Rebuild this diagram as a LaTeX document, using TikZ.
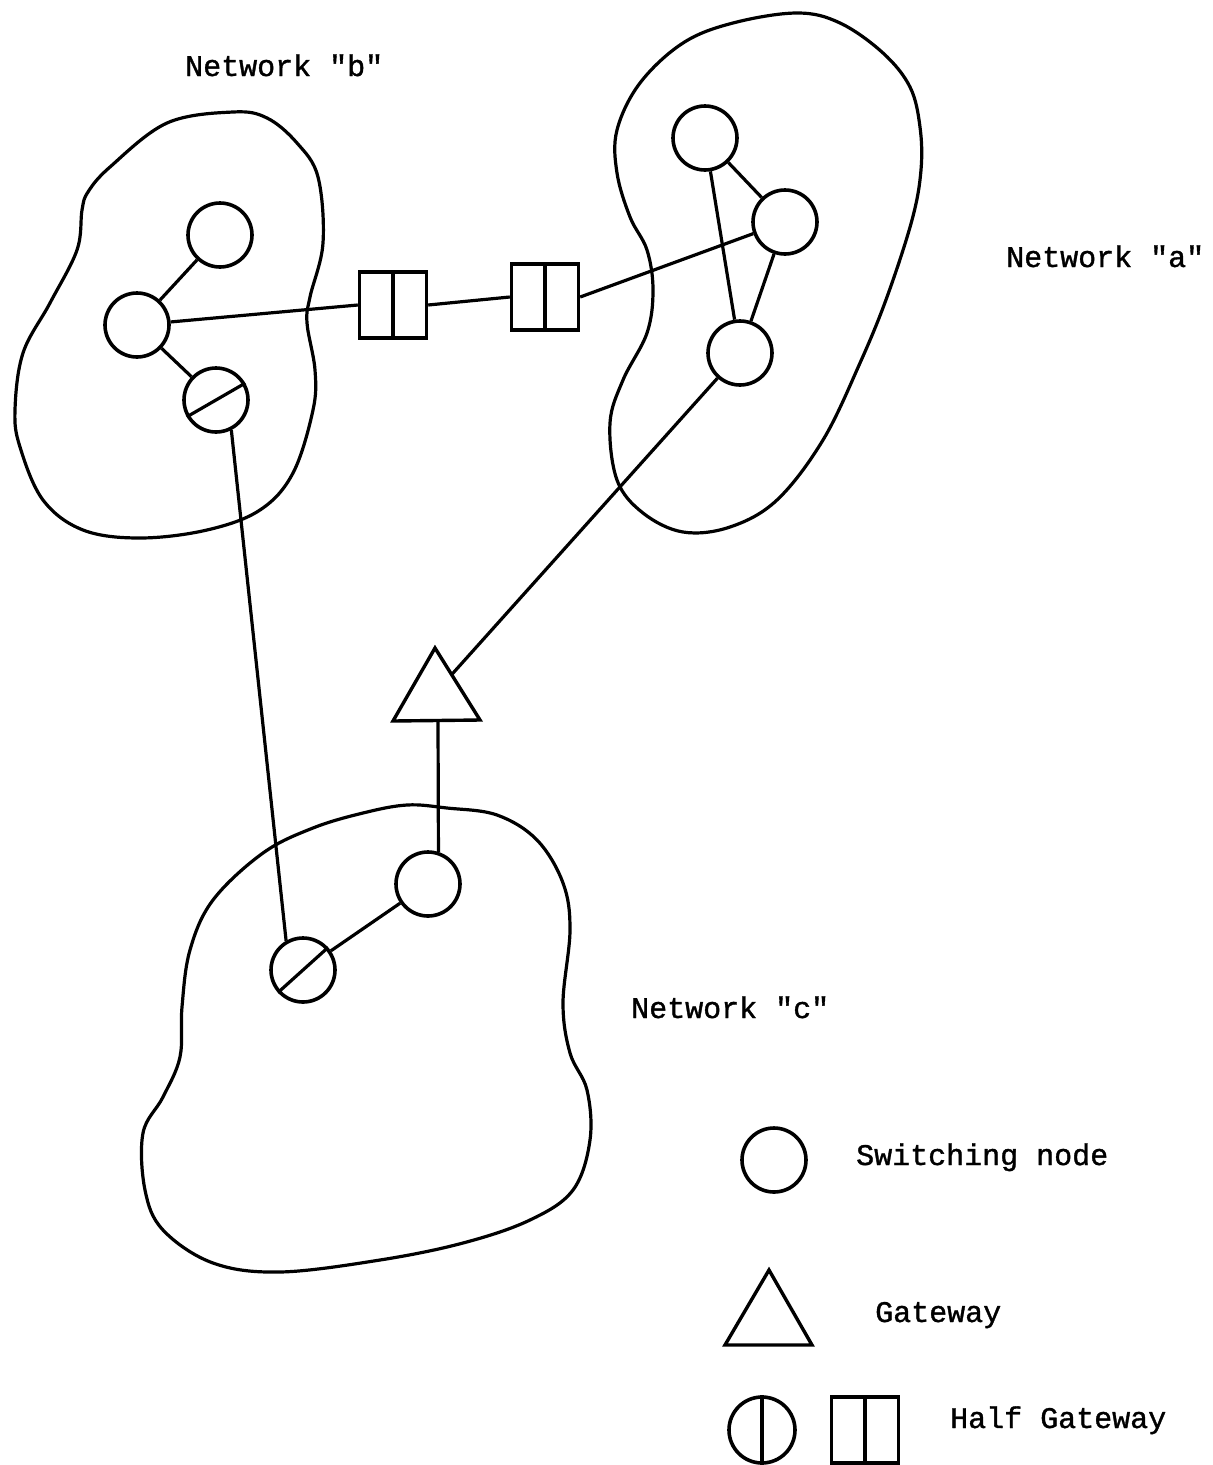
\documentclass[tikz,border=0pt]{standalone}
\usepackage{fontspec}
\setmonofont[FakeBold=1.2]{Liberation Mono}
\usetikzlibrary{calc}
\begin{document}
\begin{tikzpicture}[x=1pt,y=-1pt,
  ln/.style={line width=3.2pt},
  swnode/.style={circle,draw,line width=3.6pt,minimum size=64pt,inner sep=0pt},
  halfbox/.style={rectangle,draw,line width=3.4pt,minimum width=67pt,minimum height=66pt,inner sep=0pt},
  blob/.style={line width=3.2pt},
  lbl/.style={anchor=base west,inner sep=0pt,font=\ttfamily\fontsize{30}{36}\selectfont}]
\useasboundingbox (0,0) rectangle (1213,1465);

% network outlines
\draw[blob] plot[smooth cycle,tension=0.6] coordinates {(233,112) (267,118) (297,143) (318,177) (323,243) (310,297) (307,323) (315,370) (313,410) (293,473) (260,510) (207,530) (140,538) (83,530) (43,500) (20,447) (15,410) (23,353) (50,303) (77,250) (82,210) (88,192) (110,167) (167,123)};
\draw[blob] plot[smooth cycle,tension=0.6] coordinates {(797,13) (840,23) (883,53) (910,87) (920,127) (921,170) (912,220) (887,297) (860,363) (823,440) (777,500) (730,527) (683,532) (643,513) (617,480) (610,423) (623,380) (647,333) (653,290) (647,250) (630,217) (617,173) (617,130) (640,83) (683,43) (733,23)};
\draw[blob] plot[smooth cycle,tension=0.6] coordinates {(407,805) (447,808) (497,815) (537,840) (563,883) (570,930) (563,1003) (570,1053) (587,1090) (590,1140) (573,1190) (530,1220) (463,1243) (380,1260) (280,1272) (213,1263) (163,1230) (145,1190) (143,1133) (163,1097) (180,1057) (182,1007) (190,950) (213,900) (263,853) (313,828) (363,813)};

% network b
\node[swnode] (b1) at (220,235) {};
\node[swnode] (b2) at (137,325) {};
\node[swnode] (b3) at (216,400) {};
\draw[ln] (b3.210) -- (b3.30);
% half gateways between b and a
\node[halfbox] (r1) at (393,305) {};
\draw[ln] (r1.north) -- (r1.south);
\node[halfbox] (r2) at (545,297) {};
\draw[ln] (r2.north) -- (r2.south);

% network a
\node[swnode] (a1) at (705,138) {};
\node[swnode] (a2) at (785,222) {};
\node[swnode] (a3) at (740,353) {};

% gateway
\coordinate (gwA) at (435,648);
\coordinate (gwL) at (393,721);
\coordinate (gwR) at (480,720);
\draw[line width=3.4pt,line join=miter] (gwA) -- (gwL) -- (gwR) -- cycle;
\coordinate (gwSide) at ($(gwA)!0.37!(gwR)$);
\coordinate (gwBase) at (438,720);

% network c
\node[swnode] (c2) at (428,884) {};
\node[swnode] (c1) at (303,970) {};
\draw[ln] (c1.222) -- (c1.42);

% connectors
\draw[ln] (b1) -- (b2);
\draw[ln] (b2) -- (b3);
\draw[ln] (b2) -- (r1.west);
\draw[ln] (r1.east) -- (r2.west);
\draw[ln] (r2.east) -- (a2);
\draw[ln] (a1) -- (a2);
\draw[ln] (a1) -- (a3);
\draw[ln] (a2) -- (a3);
\draw[ln] (a3) -- (gwSide);
\draw[ln] (c2.72) -- (gwBase);
\draw[ln] (c1) -- (c2);
\draw[ln] (b3.-63) -- (c1.120);

% labels
\node[lbl] (lb) at (185,76) {Network "b"};
\node[lbl] (la) at (1006,267) {Network "a"};
\node[lbl] (lc) at (631,1018) {Network "c"};

% legend
\node[swnode] (k1) at (774,1160) {};
\node[lbl] (k1t) at (856,1165) {Switching node};
\coordinate (kA) at (769,1270);
\coordinate (kL) at (725,1345);
\coordinate (kR) at (812,1345);
\draw[line width=3.4pt,line join=miter] (kA) -- (kL) -- (kR) -- cycle;
\node[lbl] (k2t) at (875,1322) {Gateway};
\node[swnode,minimum size=66pt] (k3) at (762,1430) {};
\draw[ln] (k3.north) -- (k3.south);
\node[halfbox] (k4) at (865,1430) {};
\draw[ln] (k4.north) -- (k4.south);
\node[lbl] (k3t) at (950,1428) {Half Gateway};
\end{tikzpicture}
\end{document}
